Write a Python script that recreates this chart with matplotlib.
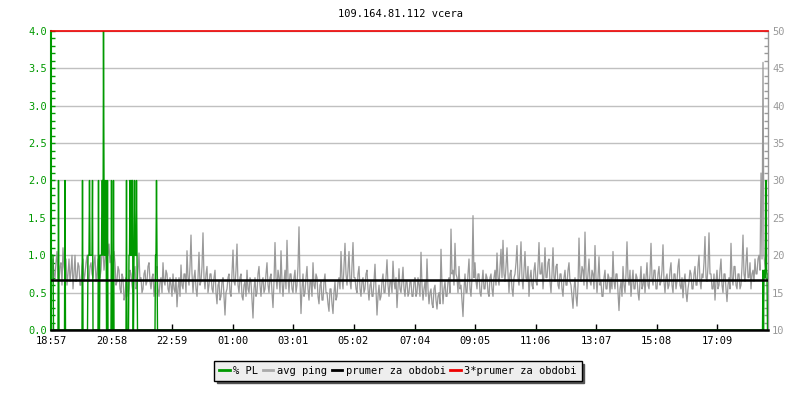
import matplotlib.pyplot as plt
import numpy as np
from matplotlib.lines import Line2D
from matplotlib.ticker import FixedLocator, FormatStrFormatter

plt.rcParams['font.family'] = ['DejaVu Sans Mono']

title = '109.164.81.112 vcera'
tick_pos = [0, 121, 242, 363, 484, 605, 727, 848, 969, 1090, 1211, 1332]
tick_labels = ['18:57', '20:58', '22:59', '01:00', '03:01', '05:02',
               '07:04', '09:05', '11:06', '13:07', '15:08', '17:09']
t_end = 1434

# avg ping [ms], one value every 2 minutes
ping_ms = [
    18.0, 16.5, 19.5, 17.5, 17.0, 19.0, 20.5, 17.0, 16.5, 18.5, 19.0, 16.0, 21.0, 18.5, 17.5, 19.5, 16.0, 17.5, 19.5, 16.5,
    18.0, 20.0, 15.5, 17.5, 20.0, 16.5, 17.0, 19.0, 18.5, 16.0, 16.0, 18.5, 19.5, 16.5, 17.5, 19.0, 20.0, 17.0, 16.5, 18.5,
    19.0, 17.5, 17.0, 19.0, 20.0, 16.5, 17.5, 19.5, 19.5, 17.0, 18.0, 20.5, 21.0, 18.0, 19.5, 22.0, 23.5, 20.0, 21.5, 19.0,
    20.0, 17.5, 18.0, 20.5, 19.0, 16.0, 16.5, 18.5, 18.0, 15.5, 15.0, 17.5, 17.0, 14.0, 14.5, 17.0, 16.5, 14.5, 15.5, 18.0,
    17.5, 16.0, 15.0, 17.5, 18.5, 15.5, 16.0, 18.0, 20.3, 16.5, 17.0, 15.0, 15.5, 17.5, 18.0, 16.0, 16.5, 18.5, 19.0, 16.5,
    15.5, 17.0, 17.5, 14.5, 16.0, 18.0, 18.5, 15.5, 14.5, 16.5, 17.0, 15.0, 19.0, 16.5, 16.0, 18.0, 17.5, 15.5, 15.0, 17.0,
    16.0, 14.5, 17.5, 15.5, 15.0, 17.0, 13.1, 15.5, 17.0, 14.5, 18.7, 16.0, 15.5, 17.5, 17.5, 15.0, 20.6, 17.0, 16.0, 18.5,
    22.7, 17.5, 15.0, 17.0, 18.0, 15.5, 14.5, 17.0, 20.4, 16.0, 16.5, 18.5, 23.0, 17.0, 15.5, 17.5, 18.5, 15.0, 16.0, 17.5,
    17.5, 15.5, 15.0, 17.0, 18.0, 15.0, 13.5, 16.0, 16.5, 14.0, 14.5, 16.5, 17.0, 14.5, 12.0, 15.0, 15.5, 17.0, 17.5, 15.0,
    14.5, 17.5, 20.7, 16.5, 16.0, 18.0, 21.5, 16.0, 15.0, 17.0, 17.5, 14.5, 14.0, 16.0, 16.5, 14.5, 18.0, 15.5, 15.0, 17.0,
    16.5, 14.0, 11.6, 15.5, 17.0, 14.5, 15.0, 17.5, 18.5, 16.0, 14.5, 16.5, 17.0, 15.0, 15.5, 17.5, 19.0, 16.0, 15.0, 17.0,
    17.5, 15.0, 13.0, 16.5, 21.7, 17.0, 15.5, 18.0, 17.0, 15.0, 20.6, 16.5, 14.5, 16.5, 18.0, 15.5, 22.0, 17.0, 15.0, 17.5,
    17.5, 15.5, 15.0, 17.0, 18.0, 15.0, 16.0, 18.5, 23.8, 16.5, 12.2, 15.5, 17.5, 14.5, 15.0, 17.0, 18.5, 15.5, 14.0, 16.5,
    16.5, 14.5, 19.0, 16.0, 15.5, 17.5, 17.0, 14.5, 13.5, 16.0, 16.5, 14.0, 14.0, 16.5, 17.5, 15.0, 15.0, 13.5, 12.5, 15.5,
    15.5, 13.5, 12.2, 15.0, 16.5, 14.0, 14.5, 16.5, 17.0, 15.5, 20.5, 17.0, 15.5, 18.5, 21.6, 17.5, 16.0, 18.0, 20.5, 16.5,
    15.5, 18.5, 21.7, 17.0, 17.0, 15.5, 15.0, 17.5, 18.5, 15.5, 14.5, 16.5, 17.0, 15.0, 15.5, 17.5, 18.0, 15.5, 14.0, 16.0,
    16.5, 14.5, 14.5, 16.5, 18.8, 15.5, 12.0, 14.5, 16.0, 14.0, 14.5, 16.5, 17.5, 15.0, 15.0, 17.0, 19.4, 16.0, 14.5, 16.5,
    16.5, 15.0, 19.2, 16.5, 15.5, 17.0, 13.0, 15.5, 18.2, 15.5, 15.0, 16.5, 18.4, 15.5, 14.5, 16.5, 16.5, 14.5, 15.0, 16.5,
    16.5, 14.5, 14.5, 16.5, 17.0, 14.5, 15.0, 17.0, 16.0, 14.5, 20.4, 16.0, 14.0, 15.5, 16.5, 14.5, 19.5, 15.5, 13.5, 15.0,
    15.5, 13.5, 13.0, 15.5, 16.0, 14.0, 12.8, 14.5, 15.0, 13.5, 20.8, 16.0, 13.5, 15.5, 16.5, 14.5, 14.5, 16.5, 17.0, 15.0,
    23.5, 17.5, 18.0, 16.0, 21.6, 17.5, 17.0, 15.0, 18.5, 15.5, 16.0, 14.0, 11.8, 15.5, 17.5, 15.0, 15.0, 17.5, 19.5, 15.5,
    14.5, 17.0, 25.3, 17.0, 19.0, 16.5, 15.5, 17.5, 17.5, 15.0, 14.5, 16.5, 18.0, 15.5, 15.5, 17.5, 17.0, 15.0, 14.5, 17.0,
    17.5, 15.5, 14.5, 17.0, 18.0, 16.0, 20.3, 17.0, 16.0, 18.5, 20.8, 17.0, 22.0, 17.5, 16.5, 18.5, 21.0, 17.5, 15.0, 17.5,
    18.0, 15.5, 14.5, 17.0, 17.5, 19.0, 21.3, 17.0, 16.0, 18.5, 21.8, 17.0, 15.5, 18.0, 20.5, 17.0, 16.5, 18.5, 14.5, 17.0,
    18.0, 16.0, 15.5, 18.0, 19.0, 16.5, 16.0, 18.5, 21.7, 17.5, 17.5, 19.0, 15.5, 17.5, 21.0, 17.0, 17.0, 19.0, 19.5, 16.5,
    15.0, 17.5, 21.0, 17.0, 16.5, 18.5, 18.8, 16.0, 15.5, 17.5, 17.5, 15.5, 14.5, 17.0, 18.0, 16.0, 16.0, 18.0, 19.0, 16.5,
    16.0, 14.5, 12.9, 15.5, 17.0, 14.5, 13.2, 16.0, 22.3, 17.0, 16.5, 18.5, 18.0, 16.0, 23.1, 17.5, 15.5, 17.5, 19.5, 16.5,
    16.0, 18.0, 17.5, 15.5, 21.3, 17.0, 15.0, 17.0, 19.8, 16.0, 16.5, 14.5, 14.5, 17.0, 18.0, 15.5, 15.5, 17.5, 17.0, 15.0,
    17.0, 15.5, 20.5, 16.5, 15.5, 17.5, 17.5, 15.0, 12.6, 15.5, 16.5, 14.5, 18.5, 16.0, 15.0, 17.5, 21.8, 17.0, 16.0, 18.0,
    14.5, 16.5, 18.0, 15.5, 15.5, 17.5, 17.0, 15.0, 14.0, 16.5, 18.5, 15.5, 16.0, 17.5, 15.0, 17.0, 19.0, 16.0, 15.5, 17.5,
    21.6, 17.0, 16.0, 18.0, 18.0, 15.5, 15.5, 17.5, 18.5, 16.0, 16.5, 18.0, 21.4, 16.5, 15.0, 17.0, 17.5, 15.5, 16.0, 18.0,
    19.0, 16.0, 15.0, 17.5, 17.5, 15.5, 16.5, 18.5, 19.5, 16.0, 15.5, 17.0, 14.3, 16.5, 17.5, 15.0, 13.8, 15.5, 16.5, 18.0,
    17.5, 15.5, 15.5, 17.5, 18.5, 16.0, 16.0, 18.5, 20.0, 16.5, 15.5, 17.5, 17.0, 19.0, 22.5, 17.0, 16.5, 18.5, 23.0, 17.5,
    17.5, 15.5, 15.5, 17.5, 14.0, 16.5, 18.0, 15.5, 16.0, 18.0, 19.5, 16.0, 15.0, 17.5, 17.5, 15.5, 13.8, 16.0, 17.0, 15.5,
    21.6, 17.0, 16.0, 18.5, 18.5, 16.0, 15.5, 17.5, 17.5, 15.5, 16.0, 18.5, 22.7, 17.5, 16.5, 19.0, 21.0, 17.0, 17.0, 19.0,
    15.5, 17.5, 18.0, 16.5, 19.5, 17.5, 17.5, 19.5, 20.0, 18.0, 31.0, 19.5, 45.8, 20.0, 18.5, 17.5, 17.5,
]
ping_step = 2

# packet loss [%], minutes with nonzero loss
pl_minutes = [0, 1, 2, 3, 4, 15, 28, 63,
              74, 75, 76, 77, 78, 79, 80, 81, 82, 83, 95, 98, 99, 100, 101,
              102, 103, 104, 105, 106, 107, 108, 109, 110, 113, 121, 125, 151,
              156, 157, 158, 159, 160, 161, 162, 163,
              166, 167, 168, 169, 170, 171, 172, 209, 210, 211, 212,
              1424, 1426, 1427, 1428, 1429, 1430, 1431, 1432]
pl_values = [1, 1, 1, 1, 1, 2, 2, 2,
             1, 1, 1, 2, 1, 1, 1, 1, 1, 2, 2, 1, 1, 1, 1,
             2, 2, 1, 4, 2, 1, 2, 1, 2, 2, 2, 2, 2,
             1, 1, 2, 1, 2, 1, 2, 2,
             1, 2, 1, 1, 1, 2, 1, 1, 1, 2, 1,
             0.8, 0.75, 0.8, 0.7, 0.8, 2.0, 0.8, 0.75]

mean_ping = 16.7

GREEN = '#009900'
GRAY = '#999999'


def ms2pl(v):
    return (np.asarray(v) - 10) / 10


def pl2ms(v):
    return np.asarray(v) * 10 + 10


t_ping = np.arange(len(ping_ms)) * ping_step
t_pl = np.arange(t_end + 1)
pl = np.zeros(len(t_pl))
pl[pl_minutes] = pl_values

fig = plt.figure(figsize=(8, 4), dpi=100)
ax = fig.add_axes([51 / 800, 70 / 400, 717 / 800, 299 / 400])

ax.yaxis.grid(True, color='#c0c0c0', lw=1)
ax.set_axisbelow(True)

ax.plot(t_ping, ms2pl(ping_ms), color=GRAY, lw=0.9, zorder=2)
ax.plot(t_pl, pl, color=GREEN, lw=1, zorder=3)
ax.axhline(ms2pl(mean_ping), color='black', lw=1.8, zorder=4)
# 3*mean sits just above the top of the scale; draw it on the edge
ax.axhline(min(ms2pl(3 * mean_ping), 4.0), color='#ee0000', lw=1.2, zorder=5, clip_on=False)

ax.set_xlim(0, t_end)
ax.set_ylim(0, 4)
ax.set_xticks(tick_pos)
ax.set_xticklabels(tick_labels)
ax.yaxis.set_major_locator(FixedLocator(np.arange(0, 4.01, 0.5)))
ax.yaxis.set_minor_locator(FixedLocator(np.arange(0, 4.01, 0.1)))
ax.yaxis.set_major_formatter(FormatStrFormatter('%.1f'))
ax.tick_params(axis='x', direction='in', length=4, width=1, colors='black',
               labelsize=7.5, pad=4)
ax.tick_params(axis='y', which='both', direction='in', length=3, width=1,
               colors=GREEN, labelsize=7.5, pad=3)

ax.spines['top'].set_visible(False)
ax.spines['left'].set_color(GREEN)
ax.spines['left'].set_linewidth(1.5)
ax.spines['bottom'].set_color('black')
ax.spines['bottom'].set_linewidth(1.8)
ax.spines['bottom'].set_zorder(6)
ax.spines['right'].set_visible(False)

sec = ax.secondary_yaxis('right', functions=(pl2ms, ms2pl))
sec.yaxis.set_major_locator(FixedLocator(np.arange(10, 51, 5)))
sec.yaxis.set_minor_locator(FixedLocator(np.arange(10, 51, 1)))
sec.yaxis.set_major_formatter(FormatStrFormatter('%d'))
sec.tick_params(which='both', direction='in', length=3, width=1,
                colors=GRAY, labelsize=7.5, pad=3)
sec.spines['right'].set_color(GRAY)
sec.spines['right'].set_linewidth(1)

fig.text(0.5, 1 - 14 / 400, title, ha='center', va='center', fontsize=7.5)

handles = [Line2D([], [], color=GREEN, lw=2),
           Line2D([], [], color='#aaaaaa', lw=2),
           Line2D([], [], color='black', lw=2),
           Line2D([], [], color='#ee0000', lw=2)]
labels = ['% PL', 'avg ping', 'prumer za obdobi', '3*prumer za obdobi']
leg = fig.legend(handles, labels, loc='center', bbox_to_anchor=(0.4975, 1 - 371 / 400),
                 ncol=4, fontsize=7.5, handlelength=1.0, handletextpad=0.35,
                 columnspacing=0.45, borderpad=0.45, fancybox=False,
                 shadow={'color': '#555555', 'alpha': 1.0}, framealpha=1)
leg.get_frame().set_facecolor('#eeeeee')
leg.get_frame().set_edgecolor('black')
leg.get_frame().set_linewidth(1)

fig.savefig('out.png', dpi=100)
